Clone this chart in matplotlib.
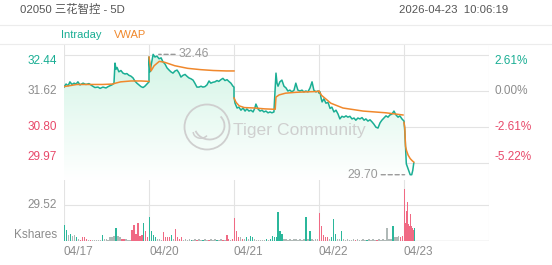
import numpy as np
import matplotlib.pyplot as plt
from matplotlib.patches import Circle, Arc

W, H = 552, 265
plt.rcParams['font.family'] = ['Liberation Sans', 'Noto Sans CJK SC', 'DejaVu Sans']

TEAL = '#1aae94'
ORANGE = '#f0882c'
RED = '#e8496a'
GRAY = '#8c8c8c'
GRID = '#e3e3e3'

prev_close = 31.62
day_len = 330  # trading minutes per HK session
day_labels = ['04/17', '04/20', '04/21', '04/22', '04/23']

price_ticks = [32.44, 31.62, 30.80, 29.97]
pct_labels = ['2.61%', '0.00%', '-2.61%', '-5.22%']
vol_tick = 29.52

# intraday price, (minute of day, price) per day
d1_min = [0, 8, 16, 23, 31, 39, 47, 54, 62, 74, 85, 97, 109, 120, 132, 140, 151, 163, 171, 178, 186,
          194, 198, 202, 206, 213, 221, 229, 237, 244, 252, 260, 268, 275, 283, 291, 299, 307, 314, 322, 330]
d1_px = [31.71, 31.78, 31.74, 31.83, 31.77, 31.80, 31.78, 31.83, 31.76, 31.80, 31.77, 31.79, 31.74, 31.70,
         31.71, 31.68, 31.71, 31.69, 31.72, 31.74, 31.76, 31.80, 32.26, 32.12, 32.16, 32.06, 32.09, 32.03,
         32.01, 32.02, 31.98, 31.96, 31.92, 31.85, 31.80, 31.76, 31.72, 31.70, 31.73, 31.78, 31.83]
d2_min = [0, 4, 8, 16, 23, 31, 39, 47, 54, 62, 70, 78, 85, 93, 101, 109, 116, 124, 132, 140, 147, 155,
          163, 171, 178, 186, 194, 202, 209, 217, 225, 233, 240, 248, 256, 264, 271, 279, 287, 295, 303,
          310, 318, 326, 330]
d2_px = [32.40, 32.06, 32.20, 32.46, 32.40, 32.42, 32.36, 32.38, 32.29, 32.24, 32.15, 32.10, 32.06, 32.03,
         32.08, 32.10, 32.04, 31.94, 31.98, 32.00, 31.96, 31.92, 31.90, 31.87, 31.80, 31.71, 31.71, 31.73,
         31.71, 31.72, 31.76, 31.85, 31.80, 31.82, 31.83, 31.86, 31.84, 31.88, 31.91, 31.86, 31.88, 31.84,
         31.80, 31.73, 31.71]
d3_min = [0, 4, 12, 19, 27, 35, 43, 50, 58, 66, 74, 81, 85, 93, 101, 109, 116, 124, 132, 140, 147, 155,
          163, 167, 171, 178, 186, 194, 202, 209, 217, 225, 233, 240, 248, 256, 264, 271, 279, 287, 295,
          303, 310, 318, 326, 330]
d3_px = [31.48, 31.34, 31.23, 31.25, 31.18, 31.23, 31.16, 31.21, 31.16, 31.18, 31.14, 31.23, 31.32, 31.21,
         31.16, 31.18, 31.14, 31.16, 31.12, 31.14, 31.12, 31.14, 32.03, 31.80, 31.73, 31.83, 31.87, 31.73,
         31.69, 31.62, 31.64, 31.60, 31.64, 31.80, 31.64, 31.62, 31.64, 31.60, 31.62, 31.60, 31.69, 31.83,
         31.64, 31.60, 31.62, 31.60]
d4_min = [0, 4, 8, 12, 19, 27, 35, 43, 50, 58, 66, 74, 81, 89, 97, 105, 112, 120, 128, 136, 143, 151,
          159, 167, 175, 182, 190, 198, 206, 213, 221, 229, 237, 244, 252, 260, 268, 275, 283, 291, 299,
          307, 314, 322, 330]
d4_px = [31.57, 31.60, 31.46, 31.37, 31.44, 31.34, 31.36, 31.22, 31.25, 31.14, 31.18, 31.09, 30.98, 31.04,
         31.02, 31.05, 31.02, 31.04, 30.98, 31.00, 30.95, 31.00, 30.98, 31.01, 30.95, 30.98, 30.93, 30.96,
         30.91, 30.86, 30.79, 30.77, 30.89, 30.95, 31.00, 31.05, 31.02, 31.07, 31.09, 31.16, 31.07, 31.02,
         31.05, 30.98, 30.93]
d5_min = [0, 3, 6, 9, 13, 18, 24, 30, 34, 38]
d5_px = [30.93, 30.70, 30.30, 29.95, 29.88, 29.80, 29.70, 29.70, 29.80, 29.97]

# VWAP per day
v1_min = [0, 50, 100, 150, 190, 200, 220, 260, 300, 330]
v1 = [31.72, 31.77, 31.77, 31.77, 31.78, 31.80, 31.83, 31.85, 31.85, 31.84]
v2_min = [0, 8, 20, 40, 60, 100, 150, 200, 250, 300, 330]
v2 = [32.40, 32.08, 32.20, 32.30, 32.28, 32.20, 32.14, 32.11, 32.09, 32.08, 32.08]
v3_min = [0, 8, 20, 40, 80, 120, 160, 163, 175, 200, 240, 280, 330]
v3 = [31.46, 31.36, 31.28, 31.24, 31.23, 31.21, 31.20, 31.48, 31.53, 31.57, 31.59, 31.60, 31.61]
v4_min = [0, 10, 46, 93, 171, 260, 326]
v4 = [31.62, 31.52, 31.34, 31.23, 31.16, 31.12, 31.07]
v5_min = [0, 3, 6, 10, 16, 24, 32, 38]
v5 = [30.90, 30.78, 30.35, 30.25, 30.15, 30.07, 30.02, 29.99]

# volume (Kshares); u = up, d = down, n = flat
vol1 = [13, 9, 5, 6, 4, 5, 3, 2, 1, 3, 3, 2, 1, 1, 1, 1, 1, 1, 1, 5, 2, 2, 1, 3, 3, 4, 11, 4, 3, 2, 2,
        2, 1, 1, 9, 13, 6, 15, 4, 5, 15, 8, 3]
col1 = "uununnunddddndnnnnnunnnnnnunnddnnnddddddudd"
vol2 = [20, 8, 5, 3, 2, 2, 1, 7, 3, 3, 3, 5, 2, 10, 3, 2, 3, 1, 2, 1, 2, 1, 1, 2, 1, 2, 1, 1, 2, 1, 1,
        2, 1, 2, 1, 1, 2, 1, 1, 5, 2, 1, 2]
col2 = "uuuunnnddddunddddnnnnunndnnunndnnnunndnddnd"
vol3 = [19, 8, 3, 3, 2, 2, 3, 2, 4, 3, 2, 1, 1, 1, 1, 1, 2, 1, 2, 4, 3, 3, 24, 8, 6, 2, 2, 1, 2, 1, 2,
        2, 1, 2, 1, 2, 20, 2, 8, 2, 1, 2, 2]
col3 = "dddndnunuunnnnnnunuuuuuuunnnnnnnnnnnununnnn"
vol4 = [23, 12, 5, 3, 3, 2, 3, 18, 6, 2, 2, 8, 2, 1, 2, 1, 1, 2, 1, 2, 1, 1, 2, 1, 1, 2, 1, 2, 1, 1, 2,
        1, 2, 1, 11, 2, 2, 12, 3, 3, 4, 3, 4]
col4 = "dddddnuuunnunnnnnndnnnnnunnnndnnnnnnnunnndd"
vol5_min = [0, 4, 8, 12, 16, 19, 23, 27, 31, 35, 39]
vol5 = [43, 15, 25, 32, 14, 12, 22, 12, 11, 9, 11]
col5 = "ddddddddddu"


def rect(x0, y0, x1, y1):
    return [x0 / W, 1 - y1 / H, (x1 - x0) / W, (y1 - y0) / H]


fig = plt.figure(figsize=(W / 100, H / 100), dpi=100)
fig.patch.set_facecolor('white')

# header
fig.text(20 / W, 1 - 10 / H, '02050 三花智控 - 5D', fontsize=8.2, color='#555555', va='center', ha='left')
fig.text(508 / W, 1 - 10 / H, '2026-04-23  10:06:19', fontsize=8.2, color='#555555', va='center', ha='right')
for yy in (25, 44):
    fig.add_artist(plt.Line2D([0, 1], [1 - yy / H] * 2, color='#ececec', lw=0.8))
fig.text(61 / W, 1 - 35 / H, 'Intraday', fontsize=8, color=TEAL, va='center')
fig.text(114 / W, 1 - 35 / H, 'VWAP', fontsize=8, color=ORANGE, va='center')

ax = fig.add_axes(rect(64, 44, 489, 180))
axv = fig.add_axes(rect(64, 180, 489, 241), sharex=ax)
for a in (ax, axv):
    a.set_facecolor('none')
    for s in a.spines.values():
        s.set_visible(False)
    a.set_xticks([])
    a.set_yticks([])

days_min = [d1_min, d2_min, d3_min, d4_min, d5_min]
days_px = [d1_px, d2_px, d3_px, d4_px, d5_px]
vw_min = [v1_min, v2_min, v3_min, v4_min, v5_min]
vw = [v1, v2, v3, v4, v5]

x_all = np.concatenate([np.array(m) + i * day_len for i, m in enumerate(days_min)])
p_all = np.concatenate([np.array(p) for p in days_px])

ax.set_xlim(0, 5 * day_len)
ax.set_ylim(29.579, 32.698)

# grid
for t in price_ticks:
    ax.axhline(t, color=GRID, lw=0.8, zorder=0)
for i in range(6):
    ax.axvline(i * day_len, color=GRID, lw=0.8, zorder=0)
    axv.axvline(i * day_len, color=GRID, lw=0.8, zorder=0)

# gradient fill under price
y0, y1 = ax.get_ylim()
poly = ax.fill_between(x_all, p_all, y0, color='none', lw=0)
grad = np.linspace(0, 1, 256).reshape(-1, 1)
img = ax.imshow(grad, extent=[0, 5 * day_len, y0, y1], origin='lower', aspect='auto',
                cmap=plt.matplotlib.colors.LinearSegmentedColormap.from_list('g', ['#ffffff', '#d0f4e4']),
                zorder=1)
img.set_clip_path(poly.get_paths()[0], transform=ax.transData)
ax.set_xlim(0, 5 * day_len)
ax.set_ylim(y0, y1)

ax.plot(x_all, p_all, color=TEAL, lw=1.1, zorder=3)
for i in range(5):
    ax.plot(np.array(vw_min[i]) + i * day_len, vw[i], color=ORANGE, lw=1.1, zorder=4)

# watermark
wx, wy = 207, 127
logo_ax = fig.add_axes(rect(wx - 25, wy - 25, wx + 25, wy + 25))
logo_ax.set_xlim(-1, 1)
logo_ax.set_ylim(-1, 1)
logo_ax.axis('off')
logo_ax.add_patch(Circle((0, 0), 0.9, fill=False, ec='#cfcfcf', lw=1.3))
logo_ax.add_patch(Arc((0.1, 0.05), 1.2, 1.1, theta1=200, theta2=40, ec='#cfcfcf', lw=1.3))
logo_ax.add_patch(Arc((-0.25, -0.2), 0.6, 0.5, theta1=180, theta2=330, ec='#cfcfcf', lw=1.1))
fig.text(233 / W, 1 - 131 / H, 'Tiger Community', fontsize=12.6, color='#cfcfcf', va='center', ha='left')

# axis labels
for k, (t, lab) in enumerate(zip(price_ticks, pct_labels)):
    c = TEAL if t > prev_close else (GRAY if t == prev_close else RED)
    va = 'top' if k == 0 else ('bottom' if k == len(price_ticks) - 1 else 'center')
    ax.text(-0.016, t, f'{t:.2f}', transform=ax.get_yaxis_transform(), ha='right', va=va,
            fontsize=8.5, color=c)
    ax.text(1.012, t, lab, transform=ax.get_yaxis_transform(), ha='left', va=va, fontsize=8.5, color=c)

# max / min markers
imax = int(np.argmax(p_all))
imin = int(np.argmin(p_all))
ax.annotate('', xy=(x_all[imax], p_all[imax]), xytext=(22, 0), textcoords='offset pixels',
            arrowprops=dict(arrowstyle='-', linestyle=(0, (3, 2)), color='#999999', lw=1,
                            shrinkA=0, shrinkB=4))
ax.annotate(f'{p_all[imax]:.2f}', xy=(x_all[imax], p_all[imax]), xytext=(25, 0),
            textcoords='offset pixels', va='center', ha='left', fontsize=8.8, color='#999999')
ax.annotate('', xy=(x_all[imin], p_all[imin]), xytext=(-29, 0), textcoords='offset pixels',
            arrowprops=dict(arrowstyle='-', linestyle=(0, (3, 2)), color='#999999', lw=1,
                            shrinkA=0, shrinkB=4))
ax.annotate(f'{p_all[imin]:.2f}', xy=(x_all[imin], p_all[imin]), xytext=(-32, 0),
            textcoords='offset pixels', va='center', ha='right', fontsize=8.8, color='#999999')

# volume
cmap = {'u': '#2bb79b', 'd': '#f06a84', 'n': '#b0b9b7'}
vols = [vol1, vol2, vol3, vol4]
cols = [col1, col2, col3, col4]
for i in range(4):
    n = len(vols[i])
    xs = np.arange(n) * day_len / n + i * day_len
    axv.bar(xs, vols[i], width=5.5, color=[cmap[c] for c in cols[i]], align='edge', lw=0)
axv.bar(np.array(vol5_min) + 4 * day_len, vol5, width=4.0, color=[cmap[c] for c in col5],
        align='edge', lw=0)
axv.set_ylim(0, vol_tick * 61 / 36)
axv.axhline(vol_tick, color=GRID, lw=0.8, zorder=0)
axv.axhline(0, color='#d5d5d5', lw=1, zorder=0)
axv.text(-0.016, vol_tick, f'{vol_tick:.2f}', transform=axv.get_yaxis_transform(), ha='right',
         va='center', fontsize=8.5, color=GRAY)
axv.text(-0.016, 0, 'Kshares', transform=axv.get_yaxis_transform(), ha='right', va='bottom',
         fontsize=8.5, color=GRAY)
for i, lab in enumerate(day_labels):
    axv.text(i * day_len, -0.08, lab, transform=axv.get_xaxis_transform(), ha='left', va='top',
             fontsize=8.5, color=GRAY)

fig.savefig('out.png', dpi=100, facecolor='white')
